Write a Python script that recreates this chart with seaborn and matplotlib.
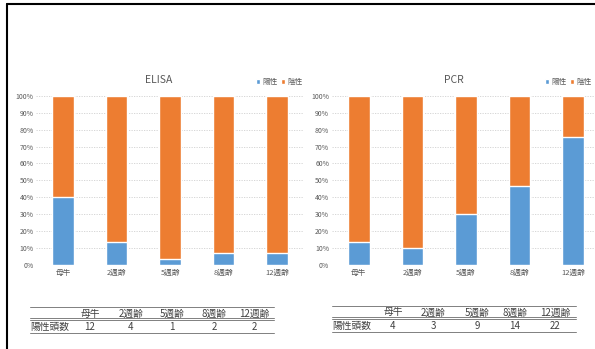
import matplotlib
matplotlib.use("Agg")
import matplotlib.pyplot as plt
from matplotlib.lines import Line2D
from matplotlib.patches import Patch
from matplotlib.ticker import PercentFormatter
import numpy as np
import pandas as pd
import seaborn as sns

sns.set_theme(style="white")
plt.rcParams["font.family"] = ["Noto Sans CJK JP", "DejaVu Sans"]

# Age groups and test results
groups = ["母牛", "2週齢", "5週齢", "8週齢", "12週齢"]
elisa_positive = [12, 4, 1, 2, 2]
elisa_tested = [30, 30, 30, 30, 30]
pcr_positive = [4, 3, 9, 14, 22]
pcr_tested = [30, 30, 30, 30, 29]
legend_labels = ["陽性", "陰性"]
row_label = "陽性頭数"

BLUE = "#5B9BD5"
ORANGE = "#ED7D31"
GRAY = "#595959"

W, H = 595, 349
fig = plt.figure(figsize=(W / 100, H / 100), dpi=100)
fig.patch.set_facecolor("white")


def fx(px):
    return px / W


def fy(py):
    return 1 - py / H


def draw_panel(left_px, right_px, title, title_x, positive, tested, legend_x):
    ax = fig.add_axes([fx(left_px), fy(264.5), fx(right_px - left_px), (264.5 - 96) / H])
    df = pd.DataFrame({
        "group": groups,
        "pos": np.array(positive) / np.array(tested),
    })
    df["neg"] = 1 - df["pos"]
    df["stack"] = df["pos"] + df["neg"]
    sns.barplot(data=df, x="group", y="stack", color=ORANGE, width=0.4,
                saturation=1, ax=ax, zorder=2)
    sns.barplot(data=df, x="group", y="pos", color=BLUE, width=0.4,
                saturation=1, ax=ax, zorder=3)
    ax.set_xlim(-0.5, len(groups) - 0.5)
    ax.set_ylim(0, 1)
    ax.set_yticks(np.linspace(0, 1, 11))
    ax.yaxis.set_major_formatter(PercentFormatter(1.0, decimals=0))
    ax.grid(axis="y", color="#D0D0D0", linestyle=(0, (1.5, 1.5)), linewidth=0.6, zorder=0)
    ax.set_axisbelow(True)
    for s in ax.spines.values():
        s.set_visible(False)
    ax.tick_params(axis="both", length=0, labelsize=5, colors=GRAY, pad=2)
    ax.tick_params(axis="x", labelsize=5.5, pad=3)
    ax.set_xlabel("")
    ax.set_ylabel("")
    ax.set_facecolor("white")
    fig.text(fx(title_x), fy(80), title, ha="center", va="center",
             fontsize=7.5, color=GRAY)
    handles = [Patch(facecolor=BLUE), Patch(facecolor=ORANGE)]
    fig.legend(handles, legend_labels, loc="center left",
               bbox_to_anchor=(fx(legend_x), fy(82)), ncol=2, frameon=False,
               fontsize=5.5, handlelength=0.55, handleheight=0.55,
               handletextpad=0.3, columnspacing=0.4, borderpad=0,
               borderaxespad=0, labelcolor=GRAY)
    return ax


def draw_table(x0, x1, col_centers, values, top_y):
    line_kw = dict(color="#808080", linewidth=0.7, transform=fig.transFigure)
    fig.add_artist(Line2D([fx(x0), fx(x1)], [fy(top_y), fy(top_y)], **line_kw))
    fig.add_artist(Line2D([fx(x0), fx(x1)], [fy(top_y + 11.3), fy(top_y + 11.3)], **line_kw))
    fig.add_artist(Line2D([fx(x0), fx(x1)], [fy(top_y + 12.8), fy(top_y + 12.8)], **line_kw))
    fig.add_artist(Line2D([fx(x0), fx(x1)], [fy(top_y + 26), fy(top_y + 26)], **line_kw))
    for cx, g, v in zip(col_centers, groups, values):
        fig.text(fx(cx), fy(top_y + 6.5), g, ha="center", va="center", fontsize=7, color="#404040")
        fig.text(fx(cx), fy(top_y + 20), str(v), ha="center", va="center", fontsize=7, color="#404040")
    fig.text(fx(x0), fy(top_y + 20), row_label, ha="left", va="center", fontsize=7, color="#404040")


draw_panel(36.3, 303.8, "ELISA", 158.5, elisa_positive, elisa_tested, 256)
draw_panel(332.0, 600.0, "PCR", 454, pcr_positive, pcr_tested, 545)

draw_table(30, 274, [90, 131, 172, 214, 254], elisa_positive, 307)
draw_table(332, 576, [393, 433, 477, 515, 555], pcr_positive, 306)

# outer frame lines
fig.add_artist(Line2D([fx(7), 1], [fy(4), fy(4)], color="black", linewidth=1.5,
                      transform=fig.transFigure))
fig.add_artist(Line2D([fx(7), fx(7)], [fy(4), 0], color="black", linewidth=1.5,
                      transform=fig.transFigure))

fig.savefig("out.png", dpi=100, facecolor="white")
